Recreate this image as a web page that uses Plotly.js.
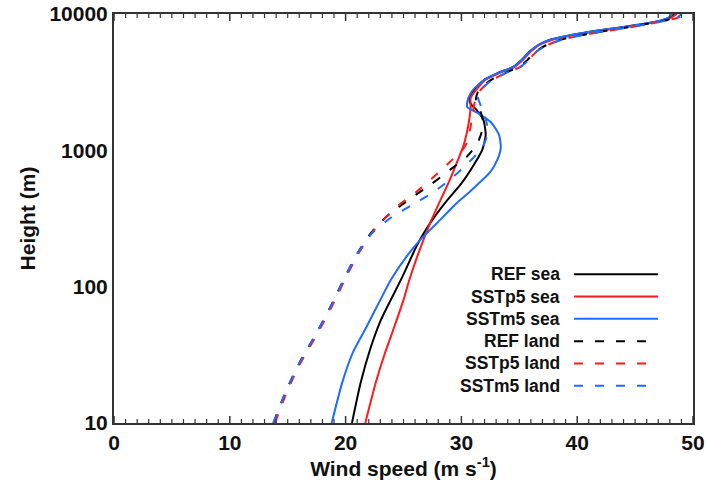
<!DOCTYPE html>
<html>
<head>
<meta charset="utf-8">
<script src="https://cdn.plot.ly/plotly-3.0.1.min.js"></script>
<style>html,body{margin:0;padding:0;background:#fff;}#chart{width:706px;height:482px;}</style>
</head>
<body>
<div id="chart"></div>
<script>
// ---- data ----
const seriesNames = ["REF sea", "SSTp5 sea", "SSTm5 sea", "REF land", "SSTp5 land", "SSTm5 land"];
const seriesColors = ["#000000", "#ff1a1a", "#1f6bff", "#000000", "#ff1a1a", "#1f6bff"];
const seriesDash = ["solid", "solid", "solid", "dash", "dash", "dash"];

// heights (m) and wind speeds (m/s) for each profile
const refSeaH = [10, 19.7, 34.3, 57, 80, 118, 196, 259, 336, 433, 557, 718, 1007, 1297, 1671, 1979, 2195, 2423, 2776, 3300, 3700, 4100, 4600, 5300, 5900, 6450, 6900, 7400, 7900, 8450, 9050, 9500, 10000];
const refSeaV = [20.55, 21.3, 22.1, 23.05, 23.9, 24.9, 26.1, 26.9, 27.8, 28.8, 29.9, 30.8, 31.8, 32.1, 31.9, 31.3, 30.8, 30.7, 31.1, 32.0, 33.2, 34.5, 35.2, 35.9, 36.6, 37.6, 39.1, 41.1, 43.4, 45.7, 47.4, 48.0, 48.4];

const p5SeaH = [10, 19.7, 32.6, 50.6, 80, 112, 177, 293, 433, 607, 850, 1097, 1535, 2047, 2423, 2800, 3300, 3700, 4100, 4600, 5300, 5900, 6450, 6900, 7400, 7900, 8450, 9050, 9500, 10000];
const p5SeaV = [21.7, 22.6, 23.4, 24.2, 25.0, 25.5, 26.3, 27.3, 28.2, 29.0, 29.7, 30.2, 30.6, 30.8, 30.8, 31.3, 32.1, 33.3, 34.6, 35.3, 36.0, 36.7, 37.8, 39.3, 41.3, 43.6, 45.9, 47.6, 48.2, 48.6];

const m5SeaH = [10, 19.7, 32.6, 50.6, 80, 112, 177, 228, 293, 411, 495, 694, 850, 1042, 1297, 1588, 1880, 2081, 2423, 2776, 3300, 3700, 4100, 4600, 5300, 5900, 6450, 6900, 7400, 7900, 8450, 9050, 9500, 10000];
const m5SeaV = [18.8, 19.7, 20.6, 21.8, 23.0, 23.9, 25.5, 26.6, 27.9, 29.6, 30.7, 32.5, 33.1, 33.4, 33.25, 32.6, 31.4, 30.5, 30.6, 31.0, 32.0, 33.2, 34.5, 35.2, 35.9, 36.6, 37.6, 39.1, 41.1, 43.4, 45.7, 47.4, 48.0, 48.2];

const refLandH = [10, 17.5, 28, 45.7, 80, 118, 177, 248, 325, 385, 471, 557, 718, 895, 1133, 1364, 1671, 1979, 2344, 2776, 3300, 3700, 4100, 4600, 5300, 5900, 6450, 6900, 7400, 7900, 8450, 9050, 9500, 10000];
const refLandV = [13.76, 14.9, 16.05, 17.5, 19.0, 19.95, 21.05, 22.2, 23.5, 24.6, 26.05, 27.3, 29.0, 30.45, 31.4, 31.75, 31.85, 31.6, 31.25, 31.5, 32.6, 33.8, 35.0, 35.7, 36.4, 37.3, 38.5, 40.0, 42.0, 44.0, 46.0, 47.8, 48.6, 49.0];

const p5LandH = [10, 17.5, 28, 45.7, 80, 118, 177, 248, 325, 397, 495, 627, 822, 1007, 1153, 1500, 1900, 2350, 2800, 3300, 3700, 4100, 4600, 5300, 5900, 6450, 6900, 7400, 7900, 8450, 9050, 9500, 10000];
const p5LandV = [13.9, 15.0, 16.15, 17.6, 19.1, 20.05, 21.15, 22.25, 23.5, 24.6, 26.1, 27.5, 29.0, 30.1, 30.5, 30.8, 31.0, 31.2, 31.7, 32.7, 33.9, 35.1, 35.8, 36.5, 37.4, 38.6, 40.1, 42.1, 44.2, 46.2, 48.0, 48.8, 49.1];

const m5LandH = [10, 17.5, 28, 45.7, 80, 118, 177, 248, 325, 400, 495, 607, 809, 1042, 1364, 1700, 2000, 2500, 2800, 3300, 3700, 4100, 4600, 5300, 5900, 6450, 6900, 7400, 7900, 8450, 9050, 9500, 10000];
const m5LandV = [13.76, 14.9, 16.05, 17.5, 19.0, 19.95, 21.05, 22.3, 24.0, 25.8, 27.6, 29.0, 30.6, 31.8, 32.3, 32.1, 31.8, 31.4, 31.7, 32.7, 33.9, 35.1, 35.8, 36.5, 37.4, 38.6, 40.0, 42.0, 44.1, 46.2, 47.9, 48.7, 49.0];

const xRange = [0, 50];
const yRangeLog = [1, 4];   // 10 m .. 10000 m
const xMajorTicks = [0, 10, 20, 30, 40, 50];
const yMajorTicks = [10, 100, 1000, 10000];

// ---- build ----
const xs = [refSeaV, p5SeaV, m5SeaV, refLandV, p5LandV, m5LandV];
const ys = [refSeaH, p5SeaH, m5SeaH, refLandH, p5LandH, m5LandH];
const DASH = "9px,12px";

const traces = xs.map((x, i) => ({
  type: "scatter", mode: "lines", x: x, y: ys[i], name: seriesNames[i],
  line: {color: seriesColors[i], width: 2, dash: seriesDash[i] === "dash" ? DASH : "solid", shape: "spline", smoothing: 0.6},
  hoverinfo: "skip"
}));

// custom legend: text right-aligned, then a sample line
const legTextX = 0.7735, legLineX0 = 0.7945, legLineX1 = 0.9396, legDashX1 = 0.9223;
const legTop = 0.3636, legStep = 0.05448;
const annotations = [], shapes = [];
seriesNames.forEach((n, i) => {
  const y = legTop - i * legStep;
  annotations.push({xref: "paper", yref: "paper", x: legTextX, y: y, xanchor: "right", yanchor: "middle",
    text: "<b>" + n + "</b>", showarrow: false,
    font: {family: "Liberation Sans, Arial, sans-serif", size: 17.5, color: "#111"}});
  shapes.push({type: "line", xref: "paper", yref: "paper", x0: legLineX0, x1: seriesDash[i] === "dash" ? legDashX1 : legLineX1, y0: y, y1: y,
    line: {color: seriesColors[i], width: 2, dash: seriesDash[i] === "dash" ? DASH : "solid"}});
});

// inward tick marks on all four sides (pixel-length shapes anchored to the axes)
const TICK = "#333";
function xTick(v, len, w) {
  shapes.push({type: "line", xref: "x", yref: "paper", ysizemode: "pixel", yanchor: 0, x0: v, x1: v, y0: 0, y1: len, line: {color: TICK, width: w}, layer: "above"});
  shapes.push({type: "line", xref: "x", yref: "paper", ysizemode: "pixel", yanchor: 1, x0: v, x1: v, y0: 0, y1: -len, line: {color: TICK, width: w}, layer: "above"});
}
function yTick(v, len, w) {
  const lv = Math.log10(v);
  shapes.push({type: "line", xref: "paper", yref: "y", xsizemode: "pixel", xanchor: 0, y0: lv, y1: lv, x0: 0, x1: len, line: {color: TICK, width: w}, layer: "above"});
  shapes.push({type: "line", xref: "paper", yref: "y", xsizemode: "pixel", xanchor: 1, y0: lv, y1: lv, x0: 0, x1: -len, line: {color: TICK, width: w}, layer: "above"});
}
for (let v = xRange[0]; v <= xRange[1]; v++) {
  if (xMajorTicks.includes(v)) xTick(v, 7, 1.5); else xTick(v, 4, 1.2);
}
yMajorTicks.forEach((d, k) => {
  yTick(d, 10, 1.5);
  if (k < yMajorTicks.length - 1) for (let m = 2; m <= 9; m++) yTick(d * m, 5, 1.2);
});

const fontBase = {family: "Liberation Sans, Arial, sans-serif", size: 21, color: "#111", weight: "bold"};
const layout = {
  width: 706, height: 482,
  margin: {l: 114, r: 13, t: 14, b: 59, pad: 0},
  paper_bgcolor: "#fff", plot_bgcolor: "#fff",
  showlegend: false,
  font: fontBase,
  xaxis: {
    range: xRange, tickmode: "array", tickvals: xMajorTicks,
    ticks: "", showline: true, linecolor: "#333", linewidth: 2, mirror: true, showgrid: false, zeroline: false,
    tickfont: fontBase,
    title: {text: "<b>Wind speed (m s<sup>-1</sup>)</b>", font: fontBase, standoff: 6},
    automargin: false, fixedrange: true
  },
  yaxis: {
    type: "log", range: yRangeLog, tickmode: "array", tickvals: yMajorTicks, ticktext: yMajorTicks.map(String), ticksuffix: "\u2009",
    ticks: "", showline: true, linecolor: "#333", linewidth: 2, mirror: true, showgrid: false, zeroline: false,
    tickfont: fontBase,
    title: {text: "<b>Height (m)</b>", font: fontBase, standoff: 8},
    automargin: false, fixedrange: true
  },
  annotations: annotations,
  shapes: shapes
};

Plotly.newPlot("chart", traces, layout, {staticPlot: true, displayModeBar: false});
</script>
</body>
</html>
